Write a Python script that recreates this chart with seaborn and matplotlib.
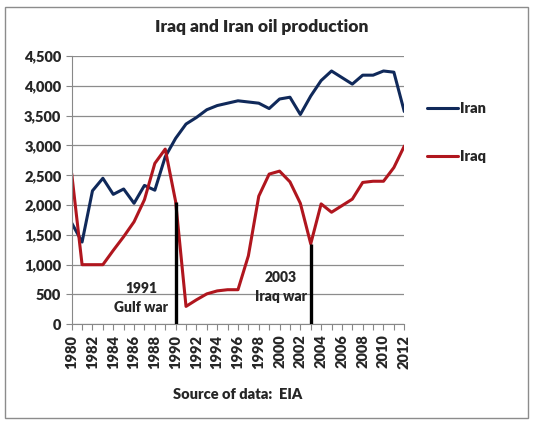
import numpy as np
import pandas as pd
import seaborn as sns
import matplotlib
matplotlib.use("Agg")
import matplotlib.pyplot as plt
from matplotlib.patches import Rectangle

# data (thousand barrels/day)
years = list(range(1980, 2013))
iran = [1700, 1380, 2240, 2450, 2180, 2270, 2030, 2330, 2250, 2810,
        3120, 3360, 3470, 3600, 3670, 3710, 3750, 3730, 3710, 3620,
        3780, 3810, 3520, 3830, 4090, 4250, 4140, 4030, 4180, 4180,
        4250, 4230, 3570]
iraq = [2530, 1000, 1000, 1000, 1240, 1470, 1720, 2090, 2700, 2940,
        2060, 300, 410, 510, 560, 580, 580, 1150, 2150, 2520,
        2570, 2390, 2030, 1350, 2020, 1880, 1990, 2100, 2380, 2400,
        2400, 2630, 2990]
war_years = [1990, 2003]
war_labels = ["1991\nGulf war", "2003\nIraq war"]
yticks = [0, 500, 1000, 1500, 2000, 2500, 3000, 3500, 4000, 4500]

df = pd.DataFrame({"year": years * 2,
                   "barrels": iran + iraq,
                   "country": ["Iran"] * len(years) + ["Iraq"] * len(years)})

sns.set_style("white")
plt.rcParams["font.family"] = ["Lato", "DejaVu Sans"]
W = "heavy"
plt.rcParams["font.weight"] = W

fig = plt.figure(figsize=(5.33, 4.25), dpi=100)
ax = fig.add_axes([0.1345, 0.237, 0.624, 0.631])

sns.lineplot(data=df, x="year", y="barrels", hue="country",
             palette={"Iran": "#10295A", "Iraq": "#B0161E"},
             linewidth=2.2, ax=ax)

# war markers: vertical bars up to the Iraq value
for yr in war_years:
    val = iraq[years.index(yr)]
    ax.vlines(yr, 0, val, color="black", linewidth=2.4, zorder=5)
ax.text(1986.7, 440, war_labels[0], ha="center", va="center",
        fontsize=10, fontweight=W, linespacing=1.55)
ax.text(2000.1, 620, war_labels[1], ha="center", va="center",
        fontsize=10, fontweight=W, linespacing=1.55)

ax.set_xlim(1980, 2012)
ax.set_ylim(0, 4500)
ax.set_yticks(yticks)
ax.set_yticklabels([f"{v:,}" for v in yticks])
ax.set_xticks(list(range(1980, 2013, 2)))
ax.set_xticks(years, minor=True)
ax.tick_params(axis="x", which="both", direction="out", length=4,
               color="#888888", width=0.8, bottom=True, labelrotation=90)
ax.tick_params(axis="y", direction="out", length=4, color="#888888",
               width=0.8, left=True)
for lab in ax.get_xticklabels() + ax.get_yticklabels():
    lab.set_fontsize(10.5)
    lab.set_fontweight(W)
ax.grid(axis="y", color="#8c8c8c", linewidth=0.9)
ax.grid(axis="x", visible=False)
for s in ["top", "right"]:
    ax.spines[s].set_visible(False)
ax.spines["left"].set_color("#888888")
ax.spines["bottom"].set_color("#888888")

ax.set_xlabel("Source of data:  EIA", fontsize=10.5, fontweight=W,
              labelpad=14)
ax.set_ylabel("")

ax.legend(title=None, loc="center left", bbox_to_anchor=(1.03, 0.715),
          frameon=False, handlelength=2.1, handletextpad=0.15,
          labelspacing=2.45, prop={"weight": W, "size": 10.5})

fig.text(0.492, 0.936, "Iraq and Iran oil production", ha="center",
         va="center", fontsize=12.5, fontweight=W)

fig.patches.append(Rectangle((5 / 533, 7 / 425), 523 / 533, 411 / 425,
                             transform=fig.transFigure, fill=False,
                             edgecolor="#8c8c8c", linewidth=1.0))

fig.savefig("out.png", dpi=100)
